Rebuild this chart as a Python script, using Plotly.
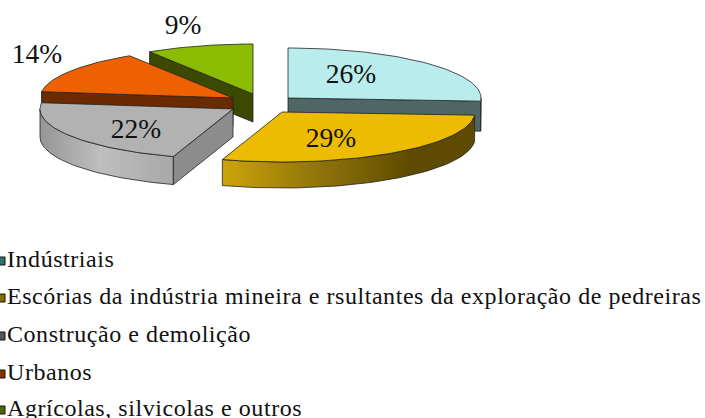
import numpy as np
import plotly.graph_objects as go

categories = ["Indústriais",
              "Escórias da indústria mineira e rsultantes da exploração de pedreiras",
              "Construção e demolição", "Urbanos", "Agrícolas, silvicolas e outros"]
values = [26, 29, 22, 14, 9]

# styles / layout
TOP = ["#B9EDED", "#EDBC00", "#B2B2B2", "#EE6000", "#8CBC00"]
FACE = ["#4F6667", "#5E4A00", "#8C8C8C", "#6B2A00", "#3B4A00"]
WALL = [
    [[0, "#4F6667"], [1, "#4F6667"]],
    [[0, "#CDA408"], [0.35, "#94780A"], [0.75, "#5E4A00"], [1, "#5E4A00"]],
    [[0, "#969696"], [0.45, "#BEBEBE"], [1, "#A8A8A8"]],
    [[0, "#6B2A00"], [1, "#6B2A00"]],
    [[0, "#3B4A00"], [1, "#3B4A00"]],
]
APEX = [(288, 98), (282, 112), (233, 109), (233, 98), (253, 94)]
LABEL_POS = [(351, 76), (331, 140), (136, 131), (37, 56), (183, 27)]
KEY_COLORS = ["#2F6F6F", "#8A6A00", "#555555", "#8A3000", "#4F6A00"]
LEGEND_Y = [261, 298, 336, 374, 410]
RX, RY = 193, 50
DEPTHS = [30, 26, 28, 28, 28]
EDGE = dict(color="#222222", width=0.8)


def arc(apex, a, b, n=60):
    t = np.radians(np.linspace(a, b, n))
    return apex[0] + RX * np.sin(t), apex[1] - RY * np.cos(t)


def poly(fig, x, y, color=None, gradient=None):
    kw = dict(fillgradient=dict(type="horizontal", colorscale=gradient)) if gradient else dict(fillcolor=color)
    fig.add_trace(go.Scatter(x=list(x), y=list(y), mode="lines", fill="toself", line=EDGE,
                             hoverinfo="skip", showlegend=False, **kw))


fig = go.Figure()
total = sum(values)
edges = np.cumsum([0] + values) / total * 360
# painter's order: back slices first
for i in [0, 4, 3, 2, 1]:
    a, b = edges[i], edges[i + 1]
    ap = APEX[i]
    d = DEPTHS[i]
    wa, wb = max(a, 90), min(b, 270)
    if wb > wa:
        x, y = arc(ap, wa, wb)
        poly(fig, np.r_[x, x[::-1], x[0]], np.r_[y, y[::-1] + d, y[0]], gradient=WALL[i])
    for ang, visible in ((a, 180 < a < 360), (b, 0 < b < 180)):
        if visible:
            ex, ey = arc(ap, ang, ang, 1)
            ex, ey = ex[0], ey[0]
            poly(fig, [ap[0], ex, ex, ap[0], ap[0]],
                 [ap[1], ey, ey + d, ap[1] + d, ap[1]], color=FACE[i])
    x, y = arc(ap, a, b)
    poly(fig, np.r_[ap[0], x, ap[0]], np.r_[ap[1], y, ap[1]], color=TOP[i])

# percentage labels
fig.add_trace(go.Scatter(x=[p[0] for p in LABEL_POS], y=[p[1] for p in LABEL_POS],
                         text=[f"{v}%" for v in values], mode="text", textposition="middle center",
                         textfont=dict(family="Liberation Serif", size=27.5, color="#111111"),
                         hoverinfo="skip", showlegend=False))
# legend
fig.add_trace(go.Scatter(x=[1] * len(categories), y=LEGEND_Y, mode="markers",
                         marker=dict(symbol="square", size=8, color=KEY_COLORS,
                                     line=dict(color="#111111", width=1)),
                         hoverinfo="skip", showlegend=False))
fig.add_trace(go.Scatter(x=[7] * len(categories), y=LEGEND_Y, text=categories, mode="text",
                         textposition="middle right",
                         textfont=dict(family="Liberation Serif", size=24, color="#111111"),
                         hoverinfo="skip", showlegend=False))

fig.update_layout(width=705, height=418, margin=dict(l=0, r=0, t=0, b=0),
                  paper_bgcolor="white", plot_bgcolor="white",
                  xaxis=dict(range=[0, 705], visible=False, fixedrange=True),
                  yaxis=dict(range=[418, 0], visible=False, fixedrange=True))
post = """
document.body.style.margin='0';
document.documentElement.style.overflow='hidden';
var s=document.createElement('style');
s.textContent='.scatterlayer .trace:last-child .textpoint text{letter-spacing:.55px}';
document.head.appendChild(s);
"""
fig.write_html("out.html", config=dict(displayModeBar=False), post_script=post)
